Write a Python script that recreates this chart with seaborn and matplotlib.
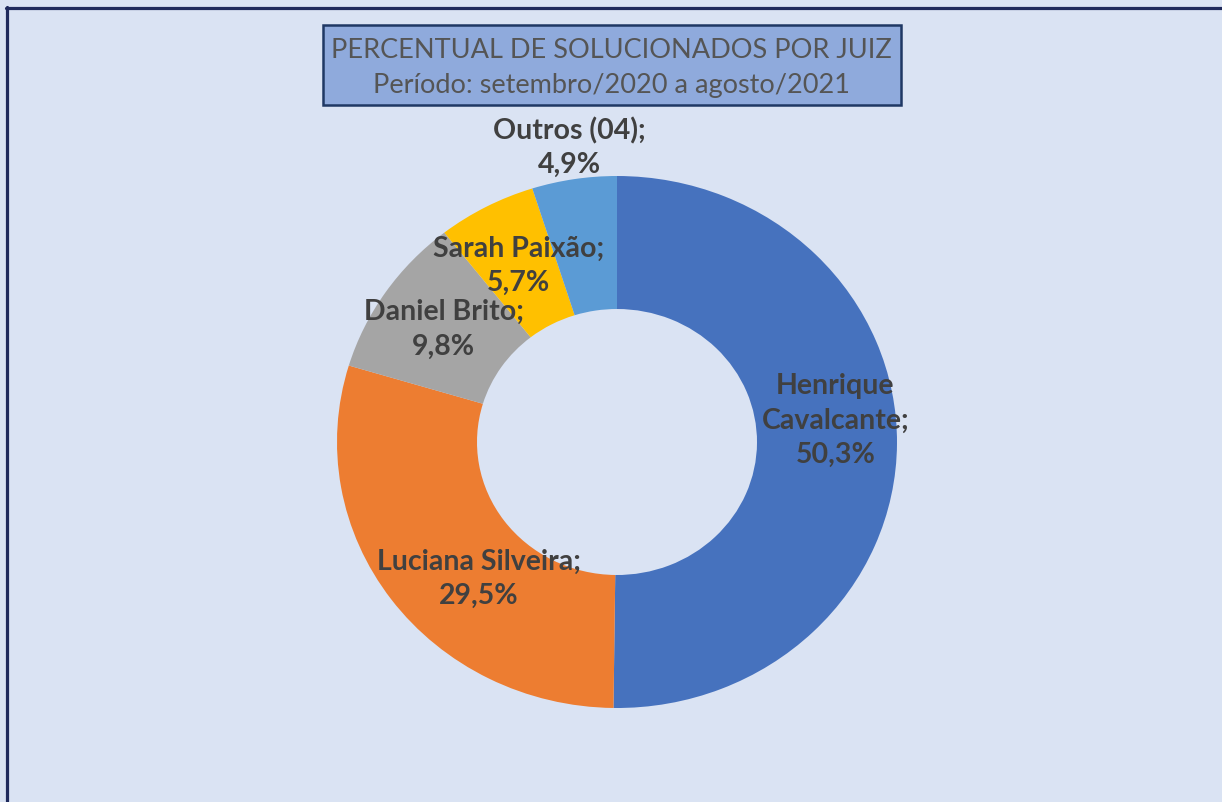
import matplotlib
matplotlib.use("Agg")
import matplotlib.pyplot as plt
import seaborn as sns
import numpy as np
from matplotlib.patches import Rectangle
from matplotlib.lines import Line2D

# ---- data ----
categorias = ["Henrique\nCavalcante", "Luciana Silveira", "Daniel Brito", "Sarah Paixão", "Outros (04)"]
percentuais = [50.3, 29.5, 9.8, 5.7, 4.9]
titulo = "PERCENTUAL DE SOLUCIONADOS POR JUIZ"
subtitulo = "Período: setembro/2020 a agosto/2021"

# ---- style ----
cores = ["#4672BE", "#ED7D31", "#A5A5A5", "#FFC000", "#5B9BD5"]
fundo = "#DAE3F3"
sns.set_theme(style="white")
plt.rcParams['font.family'] = ['Lato', 'DejaVu Sans']

W, H = 1222, 802
fig = plt.figure(figsize=(W / 100, H / 100), dpi=100, facecolor=fundo)
ax = fig.add_axes([0, 0, 1, 1])
ax.set_facecolor(fundo)

wedges, _ = ax.pie(percentuais, colors=cores, startangle=90, counterclock=False,
                   radius=1, wedgeprops=dict(width=0.5, edgecolor='none'))
ax.set_aspect('auto')
cx, cy, rx, ry = 617, 442, 280, 266
ax.set_xlim(-cx / rx, (W - cx) / rx)
ax.set_ylim(-(H - cy) / ry, cy / ry)
ax.axis('off')

# label placement (layout)
dist = [0.75, 0.75, 0.75, 0.75, 1.12]
nudge = [(0.03, 0.085), (0.11, -0.07), (0, 0), (0, 0), (0, 0)]
for w, cat, p, d, (nx, ny) in zip(wedges, categorias, percentuais, dist, nudge):
    th = np.deg2rad((w.theta1 + w.theta2) / 2)
    txt = f"{cat};\n{p:.1f}%".replace('.', ',')
    ax.text(d * np.cos(th) + nx, d * np.sin(th) + ny, txt, ha='center', va='center',
            fontsize=20.5, fontweight='bold', color='#404040', linespacing=1.4)

# title box
bx0, bx1, by0, by1 = 323, 901, 25, 105
fig.patches.append(Rectangle((bx0 / W, 1 - by1 / H), (bx1 - bx0) / W, (by1 - by0) / H,
                             transform=fig.transFigure, facecolor="#8FAADC",
                             edgecolor="#1F3864", linewidth=1.8, zorder=5))
fig.text(611 / W, 1 - 50 / H, titulo, ha='center', va='center', fontsize=19.5,
         color='#555555', zorder=6)
fig.text(611 / W, 1 - 85 / H, subtitulo, ha='center', va='center', fontsize=19.5,
         color='#555555', zorder=6)

# frame border (top and left visible)
fig.lines.append(Line2D([6 / W, 1], [1 - 8 / H, 1 - 8 / H], transform=fig.transFigure,
                        color="#1F2A5C", linewidth=2.3, zorder=7))
fig.lines.append(Line2D([7.5 / W, 7.5 / W], [0, 1 - 7 / H], transform=fig.transFigure,
                        color="#1F2A5C", linewidth=2.3, zorder=7))

fig.savefig("out.png", dpi=100, facecolor=fundo)
